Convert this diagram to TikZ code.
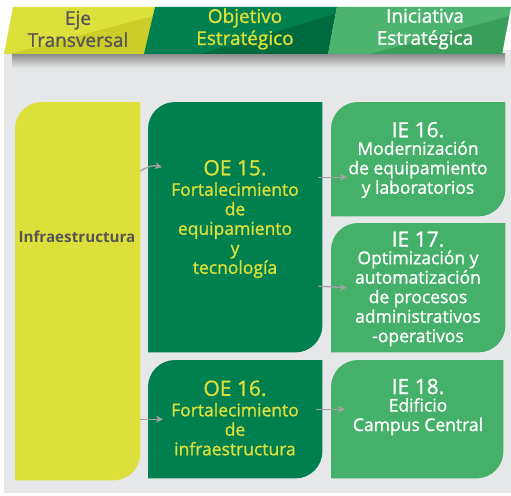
\documentclass[tikz,border=0pt]{standalone}
\usepackage{fontspec}
\setmainfont{Open Sans}
\newfontfamily\medfont{Open Sans}[FakeBold=1.2]
\usetikzlibrary{arrows.meta}
\definecolor{ylw}{HTML}{DDE03A}
\definecolor{ylwd}{HTML}{CDCD2A}
\definecolor{dgr}{HTML}{007F4F}
\definecolor{dgrd}{HTML}{006B3F}
\definecolor{lgr}{HTML}{45B06A}
\definecolor{lgrh}{HTML}{4CB46F}
\definecolor{lgrd}{HTML}{3A9F5A}
\definecolor{panel}{HTML}{E6E7E8}
\definecolor{txtgray}{HTML}{555555}
\definecolor{arrgray}{HTML}{A3A3A3}
\tikzset{
  boxshape/.style={draw=none, minimum width=#1, anchor=north west, inner sep=0pt},
  body/.style={align=center, font=\medfont\fontsize{17.5}{19.5}\selectfont, inner sep=0pt},
  head/.style={align=center, font=\medfont\fontsize{19}{22}\selectfont, inner sep=0pt},
  conn/.style={draw=arrgray, line width=1.3pt, -{Stealth[length=7pt,width=7pt,inset=2pt]}},
}
\newcommand{\roundbox}[3]{% node name, colour, radius
  \fill[#2] (#1.south west) -- ([yshift=-#3]#1.north west) arc[start angle=180,end angle=90,radius=#3]
    -- (#1.north east) -- ([yshift=#3]#1.south east) arc[start angle=0,end angle=-90,radius=#3] -- cycle;}
\begin{document}
\begin{tikzpicture}[x=1pt,y=-1pt]
\useasboundingbox (0,0) rectangle (511,495);
\fill[white] (0,0) rectangle (511,495);
% panel
\fill[panel] (4,50) rectangle (511,493);
% header shadow
\shade[top color=black!45, bottom color=panel] (12,54) rectangle (505,68);
% header segments
\fill[ylw] (13,7) -- (155,7) -- (144,54) -- (4,54) -- cycle;
\fill[ylwd] (10,54) -- (153,16) -- (144,54) -- cycle;
\fill[dgr] (155,7) -- (337,7) -- (328,54) -- (144,54) -- cycle;
\fill[dgrd] (200,54) -- (335,14) -- (328,54) -- cycle;
\fill[lgrh] (337,7) -- (511,7) -- (502,54) -- (328,54) -- cycle;
\fill[lgrd] (370,54) -- (509,16) -- (502,54) -- cycle;
\node[head, text=txtgray] (h1) at (78,29) {Eje\\Transversal};
\node[head, text=ylw] (h2) at (245,29) {Objetivo\\Estratégico};
\node[head, text=white] (h3) at (425,29) {Iniciativa\\Estratégica};
% boxes
\node[boxshape=125pt, minimum height=378pt] (infra) at (15,102) {};
\node[boxshape=174pt, minimum height=250pt] (oe15) at (148,102) {};
\node[boxshape=174pt, minimum height=118pt] (oe16) at (148,360) {};
\node[boxshape=174pt, minimum height=114pt] (ie16) at (331,102) {};
\node[boxshape=174pt, minimum height=129pt] (ie17) at (331,223) {};
\node[boxshape=172pt, minimum height=118pt] (ie18) at (331,360) {};
\roundbox{infra}{ylw}{27pt}
\roundbox{oe15}{dgr}{27pt}
\roundbox{oe16}{dgr}{27pt}
\roundbox{ie16}{lgr}{27pt}
\roundbox{ie17}{lgr}{27pt}
\roundbox{ie18}{lgr}{27pt}
% texts
\node[inner sep=0pt, text=txtgray, font=\bfseries\fontsize{15.2}{17}\selectfont] (tinfra) at (77,237) {Infraestructura};
\node[body, text=ylw] (toe15) at (235,219) {{\fontsize{21}{23}\selectfont OE 15.}\\[1pt]Fortalecimiento\\de\\equipamiento\\y\\tecnología};
\node[body, text=ylw] (toe16) at (235,418) {{\fontsize{21}{23}\selectfont OE 16.}\\[1pt]Fortalecimiento\\de\\infraestructura};
\node[body, text=white] (tie16) at (418,160) {{\fontsize{21}{23}\selectfont IE 16.}\\[-2pt]Modernización\\de equipamiento\\y laboratorios};
\node[body, text=white] (tie17) at (418,289) {{\fontsize{21}{23}\selectfont IE 17.}\\[-2pt]Optimización y\\automatización\\de procesos\\administrativos\\-operativos};
\node[body, text=white] (tie18) at (418,407) {{\fontsize{21}{23}\selectfont IE 18.}\\[-2pt]Edificio\\Campus Central};
% connectors
\draw[conn] ([yshift=120pt]infra.east) to[bend left=25] ([xshift=14pt,yshift=60pt]oe15.west);
\draw[conn] ([yshift=-128pt]infra.east) -- ([xshift=15pt]oe16.west);
\draw[conn] ([xshift=-4pt,yshift=50pt]oe15.east) -- ([xshift=16pt,yshift=-18pt]ie16.west);
\draw[conn] ([xshift=-4pt,yshift=-59pt]oe15.east) -- ([xshift=16pt]ie17.west);
\draw[conn] ([xshift=-6pt,yshift=10pt]oe16.east) -- ([xshift=14pt,yshift=10pt]ie18.west);
\end{tikzpicture}
\end{document}
